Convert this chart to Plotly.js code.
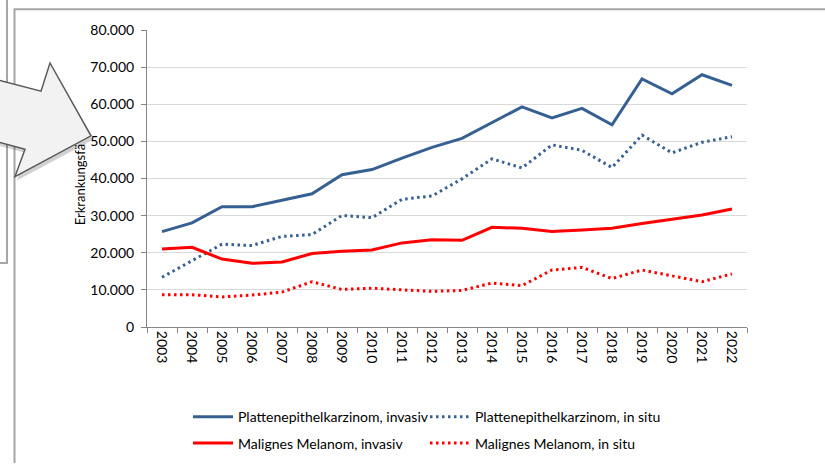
<!DOCTYPE html>
<html>
<head>
<meta charset="utf-8">
<script src="https://cdn.plot.ly/plotly-3.0.1.min.js"></script>
<style>
  html, body { margin: 0; padding: 0; background: #fff; overflow: hidden; }
  #chart { width: 825px; height: 471px; }
</style>
</head>
<body>
<div id="chart"></div>
<script>
// ---- data ----
const years = ["2003","2004","2005","2006","2007","2008","2009","2010","2011","2012",
               "2013","2014","2015","2016","2017","2018","2019","2020","2021","2022"];
const plattenInvasiv = [25700, 28050, 32400, 32400, 34150, 35900, 41000, 42400, 45500, 48400,
                        50800, 55100, 59300, 56300, 58900, 54450, 66800, 62800, 67950, 65100];
const plattenInSitu  = [13400, 17850, 22300, 21950, 24400, 24900, 30050, 29450, 34400, 35300,
                        39900, 45300, 42850, 49050, 47600, 42950, 51700, 46900, 49750, 51250];
const melanomInvasiv = [21000, 21450, 18300, 17150, 17500, 19800, 20400, 20750, 22650, 23500,
                        23350, 26850, 26600, 25700, 26150, 26600, 27900, 29000, 30150, 31800];
const melanomInSitu  = [8700, 8700, 8100, 8600, 9400, 12200, 10100, 10450, 10000, 9600,
                        9850, 11850, 11150, 15350, 16050, 13050, 15350, 13800, 12200, 14300];
const seriesNames = ["Plattenepithelkarzinom, invasiv", "Plattenepithelkarzinom, in situ",
                     "Malignes Melanom, invasiv", "Malignes Melanom, in situ"];
const yTitle = "Erkrankungsfä";

// ---- layout geometry ----
const W = 825, H = 471;
const M = {l: 147, r: 78, t: 30, b: 135};
const PW = W - M.l - M.r, PH = H - M.t - M.b;
const px = x => (x - M.l) / PW;
const py = y => (H - M.b - y) / PH;
const path = pts => pts.map((p, i) => (i ? "L" : "M") + px(p[0]).toFixed(5) + "," + py(p[1]).toFixed(5)).join(" ") + " Z";
const openPath = pts => pts.map((p, i) => (i ? "L" : "M") + px(p[0]).toFixed(5) + "," + py(p[1]).toFixed(5)).join(" ");

const BLUE = "#376092", RED = "#ff0000";
const FONT = "Lato, 'Open Sans', sans-serif";
const DOT = "2.5px,3.5px";

const traces = [
  {x: years, y: plattenInvasiv, name: seriesNames[0], mode: "lines", line: {color: BLUE, width: 3}, legend: "legend"},
  {x: years, y: plattenInSitu, name: seriesNames[1], mode: "lines", line: {color: BLUE, width: 3, dash: DOT}, legend: "legend2"},
  {x: years, y: melanomInvasiv, name: seriesNames[2], mode: "lines", line: {color: RED, width: 3}, legend: "legend3"},
  {x: years, y: melanomInSitu, name: seriesNames[3], mode: "lines", line: {color: RED, width: 3, dash: DOT}, legend: "legend4"}
];

const arrow = [[-10, 79.3], [41, 93], [50, 64], [91, 139], [15, 181], [25, 153], [-10, 143.2]];
const shadow = arrow.map(p => [p[0] + 2, p[1] + 4]);

const legBase = {orientation: "h", xanchor: "left", yanchor: "middle", itemwidth: 40,
  font: {family: FONT, size: 14, color: "#000"}, bgcolor: "rgba(0,0,0,0)", borderwidth: 0};

const layout = {
  width: W, height: H,
  margin: M,
  paper_bgcolor: "#fff", plot_bgcolor: "#fff",
  separators: ",.",
  font: {family: FONT, size: 14, color: "#000"},
  showlegend: true,
  xaxis: {
    type: "category", range: [-0.5, 19.5], fixedrange: true,
    showline: true, linecolor: "#868686", linewidth: 1,
    ticks: "outside", tickson: "boundaries", ticklen: 5, tickcolor: "#868686",
    tickangle: 90, showgrid: false, zeroline: false,
    tickfont: {family: FONT, size: 14, color: "#000"}
  },
  yaxis: {
    range: [0, 80000], dtick: 10000, tickformat: ",d", fixedrange: true,
    showline: true, linecolor: "#868686", linewidth: 1,
    ticks: "outside", ticklen: 5, tickcolor: "#868686",
    showgrid: true, gridcolor: "#d9d9d9", gridwidth: 1, zeroline: false,
    ticklabelstandoff: 4,
    tickfont: {family: FONT, size: 14, color: "#000"}
  },
  legend:  Object.assign({}, legBase, {x: px(188), y: py(429)}),
  legend2: Object.assign({}, legBase, {x: px(425), y: py(429)}),
  legend3: Object.assign({}, legBase, {x: px(188), y: py(456)}),
  legend4: Object.assign({}, legBase, {x: px(425), y: py(456)}),
  annotations: [
    {text: yTitle, xref: "paper", yref: "paper", x: px(80), y: py(190), textangle: -90,
     showarrow: false, xanchor: "center", yanchor: "middle", font: {family: FONT, size: 13, color: "#000"}}
  ],
  shapes: [
    {type: "path", xref: "paper", yref: "paper", layer: "above",
     path: openPath([[7, -5], [7, 270], [-5, 270]]), line: {color: "#a6a6a6", width: 2}},
    {type: "path", xref: "paper", yref: "paper", layer: "above",
     path: openPath([[14.5, H + 5], [14.5, 8.5], [W + 5, 8.5]]), line: {color: "#a6a6a6", width: 2}},
    {type: "path", xref: "paper", yref: "paper", layer: "above",
     path: path(shadow), fillcolor: "rgba(0,0,0,0.18)", line: {width: 0}},
    {type: "path", xref: "paper", yref: "paper", layer: "above",
     path: path(arrow), fillcolor: "#f2f2f2", line: {color: "#595959", width: 1.5}}
  ]
};

Plotly.newPlot("chart", traces, layout, {displayModeBar: false, staticPlot: true});
</script>
</body>
</html>
